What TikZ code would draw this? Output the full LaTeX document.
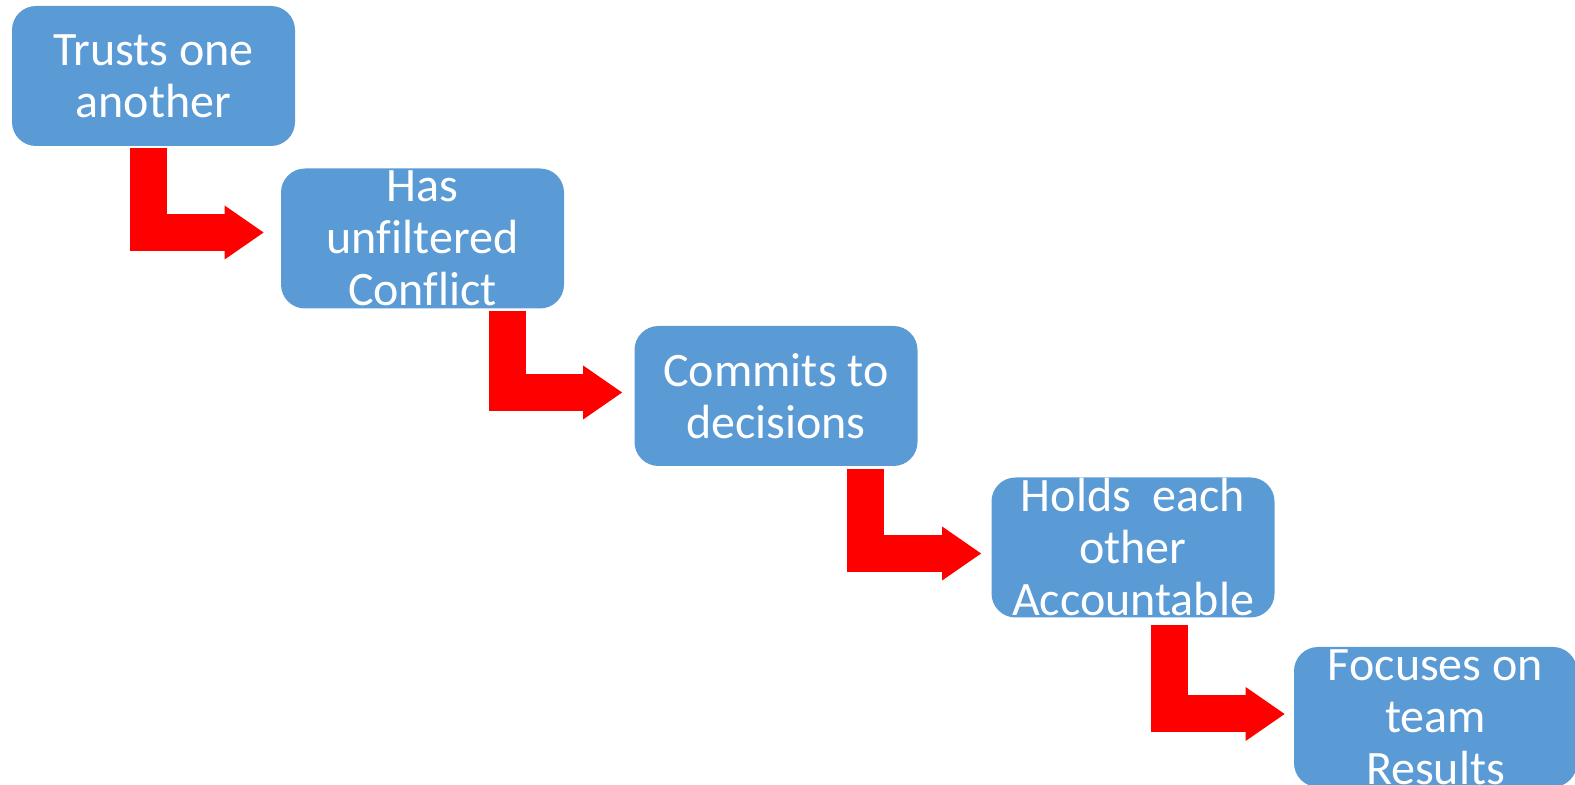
\documentclass[tikz,border=0pt]{standalone}
\usepackage{fontspec}
\setmainfont{Carlito}[Ligatures=NoCommon]
\usepackage{xcolor}
\usetikzlibrary{calc,arrows.meta,positioning}
\definecolor{stepblue}{RGB}{91,155,213}
\definecolor{arrowred}{RGB}{255,0,0}

\begin{document}
\begin{tikzpicture}[x=0.5pt, y=-0.5pt,
    stepbox/.style={rectangle, rounded corners=12pt, fill=stepblue, text=white,
        minimum width=141.5pt, minimum height=70pt, inner sep=0pt, align=center,
        font=\fontsize{24}{26}\selectfont},
    bentarrow/.style={arrowred, line width=18.5pt, line join=miter,
        -{Triangle[length=19.5pt, width=27pt, line width=0pt]}}]

    % page frame
    \clip (0,0) rectangle (1575,785);

    % Boxes of the five steps, going down to the right
    \node[stepbox] (trust) at (153.5,76) {Trusts one\\another};
    \node[stepbox] (conflict) at (422.5,238.5) {Has\\unfiltered\\Conflict};
    \node[stepbox] (commit) at (776,396) {Commits to\\decisions};
    \node[stepbox] (account) at (1133,547.5) {Holds~ each\\other\\Accountable};
    \node[stepbox] (results) at (1435.5,717) {Focuses on\\team\\Results};

    % Red bent arrows from one step to the next
    \draw[bentarrow] ($(trust.south)+(-5,2)$) |- ($(conflict.west)+(-17,-6)$);
    \draw[bentarrow] ($(conflict.south)+(85,2)$) |- ($(commit.west)+(-12,-3.5)$);
    \draw[bentarrow] ($(commit.south)+(89,3)$) |- ($(account.west)+(-10,6)$);
    \draw[bentarrow] ($(account.south)+(36.5,7)$) |- ($(results.west)+(-9,-3)$);
\end{tikzpicture}
\end{document}
